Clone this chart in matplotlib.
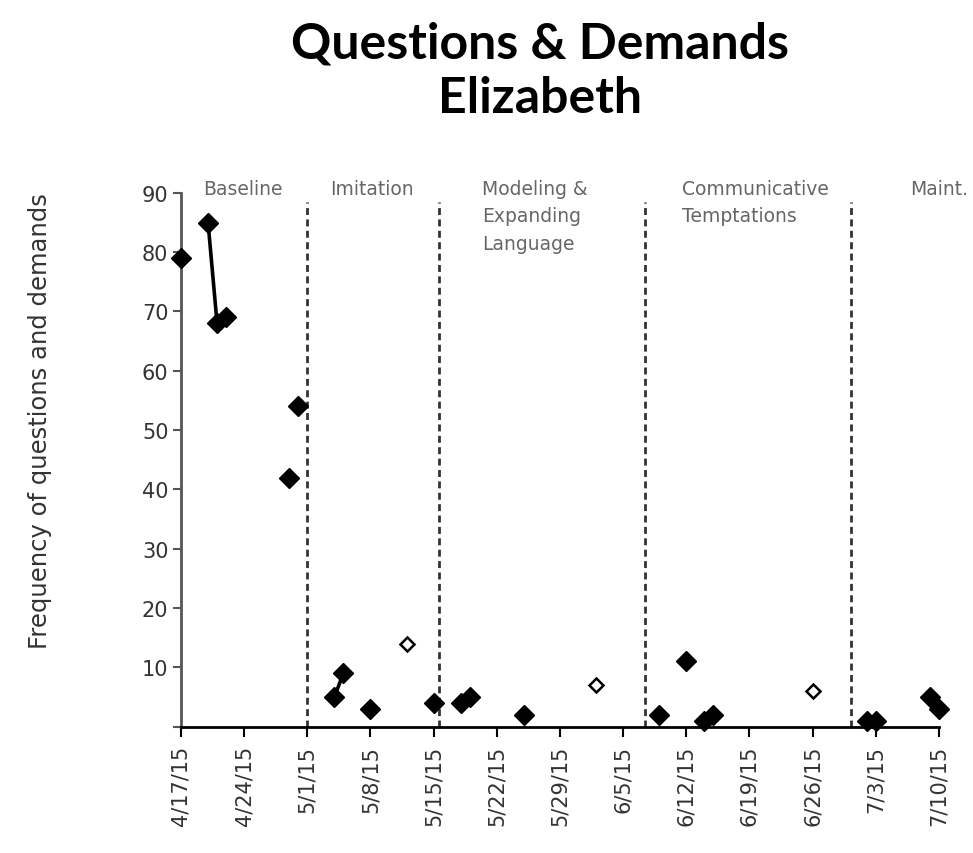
import pandas as pd
import matplotlib.pyplot as plt

# session data (open diamonds = probe sessions)
session_dates = ['2015-04-17', '2015-04-20', '2015-04-21', '2015-04-22', '2015-04-29',
                 '2015-04-30', '2015-05-04', '2015-05-05', '2015-05-08', '2015-05-12',
                 '2015-05-15', '2015-05-18', '2015-05-19', '2015-05-25', '2015-06-02',
                 '2015-06-09', '2015-06-12', '2015-06-14', '2015-06-15', '2015-06-26',
                 '2015-07-02', '2015-07-03', '2015-07-09', '2015-07-10']
frequency = [79, 85, 68, 69, 42, 54, 5, 9, 3, 14, 4, 4, 5, 2, 7, 2, 11, 1, 2, 6, 1, 1, 5, 3]
is_probe = [False, False, False, False, False, False, False, False, False, True,
            False, False, False, False, True, False, False, False, False, True,
            False, False, False, False]
# joined to the previous session by a line
joined = [False, False, True, True, False, False, False, True, False, False,
          False, False, True, False, False, False, False, False, True, False,
          False, True, False, True]

phase_names = ['Baseline', 'Imitation', 'Modeling &\nExpanding\nLanguage',
               'Communicative\nTemptations', 'Maint.']
phase_changes = ['2015-04-30 22:00', '2015-05-15 14:00', '2015-06-07 10:00', '2015-06-30 05:00']
phase_label_at = ['2015-04-19 10:00', '2015-05-03 12:00', '2015-05-20 08:00',
                  '2015-06-11 12:00', '2015-07-06 20:00']

x = pd.to_datetime(session_dates)
x_changes = pd.to_datetime(phase_changes)
x_labels = pd.to_datetime(phase_label_at)

fig = plt.figure(figsize=(9.73, 8.54), dpi=100)
ax = fig.add_axes([0.186, 0.148, 0.779, 0.625])

# connecting lines
for i in range(1, len(x)):
    if joined[i]:
        ax.plot([x[i - 1], x[i]], [frequency[i - 1], frequency[i]], color='black', lw=2.6,
                zorder=3, clip_on=False)

for xi, yi, p in zip(x, frequency, is_probe):
    if p:
        ax.plot(xi, yi, marker='D', ms=7.5, mfc='white', mec='black', mew=1.8, zorder=4, clip_on=False)
    else:
        ax.plot(xi, yi, marker='D', ms=10, mfc='black', mec='black', zorder=4, clip_on=False)

for xc in x_changes:
    ax.vlines(xc, 0, 88.5, colors='#333333', linestyles=(0, (2.5, 1.6)), lw=2, zorder=2)

for xl, name in zip(x_labels, phase_names):
    ax.text(xl, 92.3, name, fontsize=13.5, color='#666666', va='top', ha='left', linespacing=1.55)

ax.set_xlim(pd.Timestamp('2015-04-17'), pd.Timestamp('2015-07-10'))
ax.set_ylim(0, 90)
ticks = pd.date_range('2015-04-17', '2015-07-10', freq='7D')
ax.set_xticks(ticks)
ax.set_xticklabels([f'{t.month}/{t.day}/{t.strftime("%y")}' for t in ticks], rotation=90, fontsize=15)
ax.set_yticks(range(0, 100, 10))
ax.set_yticklabels([''] + [str(v) for v in range(10, 100, 10)], fontsize=15)
ax.set_ylabel('Frequency of questions and demands', fontsize=17.5, color='#333333')
ax.yaxis.set_label_coords(-0.17, 0.575)

ax.spines['top'].set_visible(False)
ax.spines['right'].set_visible(False)
ax.spines['left'].set_color('#555555')
ax.spines['left'].set_linewidth(2)
ax.spines['bottom'].set_linewidth(2)
ax.tick_params(axis='y', direction='out', length=6, width=1.5, colors='#555555', labelcolor='#333333', pad=3)
ax.tick_params(axis='x', direction='out', length=7, width=1.5, labelcolor='#333333', pad=6)

fig.text(0.555, 0.975, 'Questions & Demands\nElizabeth', ha='center', va='top',
         fontsize=36, fontweight='bold', family='Lato', linespacing=1.25)

fig.savefig('out.png', dpi=100)
